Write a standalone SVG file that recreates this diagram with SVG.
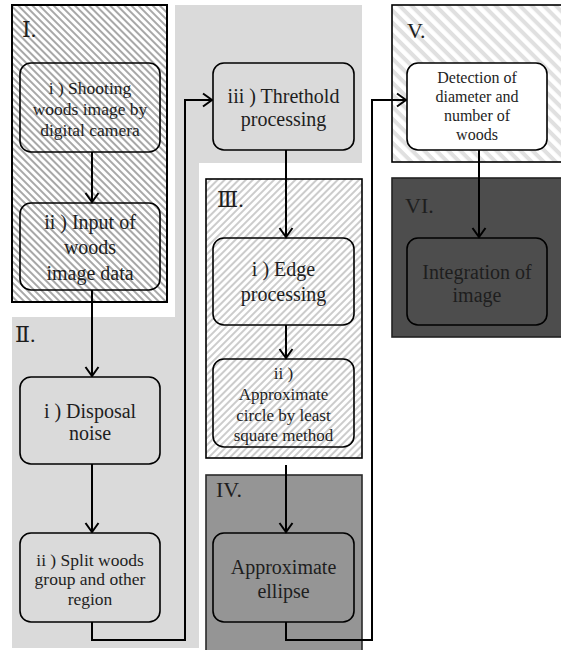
<svg xmlns="http://www.w3.org/2000/svg" width="561" height="650" viewBox="0 0 561 650">
<defs>
<pattern id="hatchI" patternUnits="userSpaceOnUse" width="10" height="5" patternTransform="rotate(45)">
<rect width="10" height="5" fill="#ffffff"/>
<rect width="10" height="2" fill="#a8a8a8"/>
</pattern>
<pattern id="hatchIII" patternUnits="userSpaceOnUse" width="10" height="5" patternTransform="rotate(-45)">
<rect width="10" height="5" fill="#ffffff"/>
<rect width="10" height="2" fill="#cccccc"/>
</pattern>
<pattern id="hatchV" patternUnits="userSpaceOnUse" width="10" height="8.5" patternTransform="rotate(45)">
<rect width="10" height="8.5" fill="#ffffff"/>
<rect width="10" height="4" fill="#e0e0e0"/>
</pattern>
<marker id="arr" viewBox="-11 -8 13 16" refX="0" refY="0" markerWidth="13" markerHeight="16" markerUnits="userSpaceOnUse" orient="auto">
<path d="M-9,-6.5 L0,0 L-9,6.5" fill="none" stroke="#000" stroke-width="2"/>
</marker>
</defs>
<style>
.node{stroke:#000;stroke-width:1.6}
.t{font-family:"Liberation Serif","DejaVu Serif",serif;fill:#1e1e1e;text-anchor:middle}
.lbl{font-family:"Liberation Serif","DejaVu Serif",serif;fill:#1e1e1e;font-size:22px}
.conn{fill:none;stroke:#000;stroke-width:2}
</style>
<rect width="561" height="650" fill="#ffffff"/>
<g id="panels">
<path d="M175,5 H362 V163 H199 V648 H12 V317 H175 Z" fill="#dadada"/>
<rect id="secI" x="12" y="5" width="155" height="297" fill="url(#hatchI)" stroke="#000" stroke-width="2"/>
<rect id="secIII" x="206" y="179" width="156" height="279" fill="url(#hatchIII)" stroke="#000" stroke-width="1.6"/>
<rect id="secIV" x="206" y="475" width="156" height="176" fill="#959595" stroke="#2a2a2a" stroke-width="1.6"/>
<rect id="secV" x="392" y="5" width="170" height="157" fill="url(#hatchV)" stroke="#000" stroke-width="1.6"/>
<rect id="secVI" x="392" y="178" width="170" height="159" fill="#4d4d4d" stroke="#222" stroke-width="1.6"/>
<text class="lbl" x="22" y="37">Ⅰ.</text>
<text class="lbl" x="15" y="342">Ⅱ.</text>
<text class="lbl" x="217" y="207">Ⅲ.</text>
<text class="lbl" x="216" y="497">IV.</text>
<text class="lbl" x="407" y="38">V.</text>
<text class="lbl" x="405" y="213">VI.</text>
</g>
<g id="connectors">
<path class="conn" d="M92,152 V202" marker-end="url(#arr)"/>
<path class="conn" d="M92,290 V376" marker-end="url(#arr)"/>
<path class="conn" d="M92,464 V532" marker-end="url(#arr)"/>
<path class="conn" d="M92,622 V640 H185 V100 H212" marker-end="url(#arr)"/>
<path class="conn" d="M286,150 V237" marker-end="url(#arr)"/>
<path class="conn" d="M286,325 V358" marker-end="url(#arr)"/>
<path class="conn" d="M286,465 V532" marker-end="url(#arr)"/>
<path class="conn" d="M286,622 V640 H372 V100 H406" marker-end="url(#arr)"/>
<path class="conn" d="M479,150 V237" marker-end="url(#arr)"/>
</g>
<g id="n1">
<rect class="node" x="20" y="63" width="140" height="89" rx="11" fill="none"/>
<text class="t" font-size="17.5" x="90"><tspan x="90" y="93.5">i ) Shooting</tspan><tspan x="90" y="114.5">woods image by</tspan><tspan x="90" y="135.5">digital camera</tspan></text>
</g>
<g id="n2">
<rect class="node" x="20" y="203" width="140" height="87" rx="11" fill="none"/>
<text class="t" font-size="20" x="90"><tspan x="90" y="229">ii ) Input of</tspan><tspan x="90" y="254">woods</tspan><tspan x="90" y="280">image data</tspan></text>
</g>
<g id="n3">
<rect class="node" x="20" y="377" width="140" height="87" rx="11" fill="#dadada"/>
<text class="t" font-size="20" x="90"><tspan x="90" y="418">i ) Disposal</tspan><tspan x="90" y="440">noise</tspan></text>
</g>
<g id="n4">
<rect class="node" x="20" y="533" width="140" height="89" rx="11" fill="#dadada"/>
<text class="t" font-size="17.5" x="90"><tspan x="90" y="566">ii ) Split woods</tspan><tspan x="90" y="585">group and other</tspan><tspan x="90" y="605">region</tspan></text>
</g>
<g id="n5">
<rect class="node" x="213" y="63" width="141" height="87" rx="11" fill="#dadada"/>
<text class="t" font-size="20" x="283.5"><tspan x="283.5" y="103">iii ) Threthold</tspan><tspan x="283.5" y="126">processing</tspan></text>
</g>
<g id="n6">
<rect class="node" x="213" y="238" width="141" height="87" rx="11" fill="none"/>
<text class="t" font-size="20" x="283.5"><tspan x="283.5" y="276">i ) Edge</tspan><tspan x="283.5" y="301">processing</tspan></text>
</g>
<g id="n7">
<rect class="node" x="213" y="359" width="141" height="88" rx="11" fill="none"/>
<text class="t" font-size="17" x="283.5"><tspan x="283.5" y="379">ii )</tspan><tspan x="283.5" y="400">Approximate</tspan><tspan x="283.5" y="420.5">circle by least</tspan><tspan x="283.5" y="441">square method</tspan></text>
</g>
<g id="n8">
<rect class="node" x="213" y="533" width="141" height="89" rx="11" fill="none"/>
<text class="t" font-size="20" x="283.5"><tspan x="283.5" y="574">Approximate</tspan><tspan x="283.5" y="598">ellipse</tspan></text>
</g>
<g id="n9">
<rect class="node" x="407" y="63" width="140" height="87" rx="11" fill="#ffffff"/>
<text class="t" font-size="16" x="477"><tspan x="477" y="83">Detection of</tspan><tspan x="477" y="102">diameter and</tspan><tspan x="477" y="120.5">number of</tspan><tspan x="477" y="140">woods</tspan></text>
</g>
<g id="n10">
<rect class="node" x="407" y="238" width="140" height="87" rx="11" fill="none"/>
<text class="t" font-size="20" x="477"><tspan x="477" y="279">Integration of</tspan><tspan x="477" y="302">image</tspan></text>
</g>
</svg>
